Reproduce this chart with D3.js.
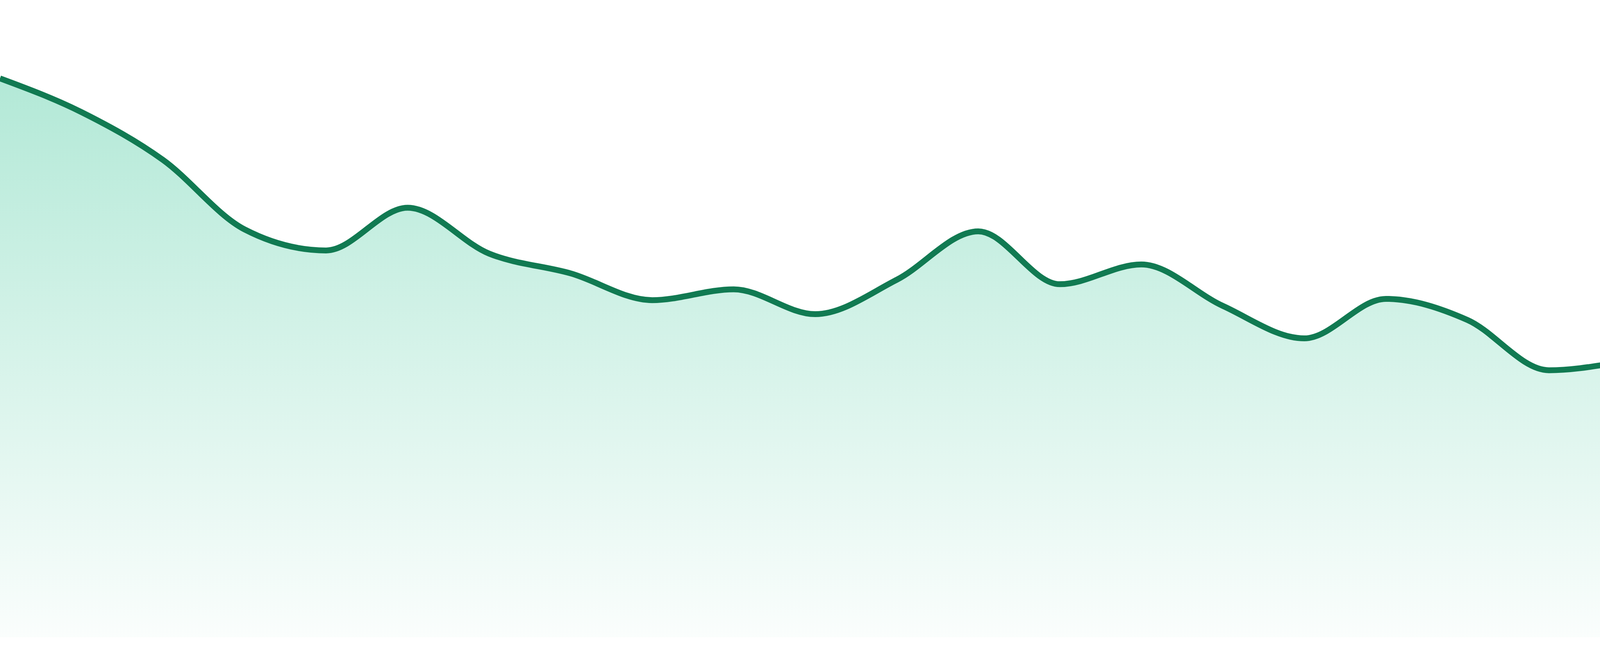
<!DOCTYPE html>
<html>
<head>
<meta charset="utf-8">
<script src="https://cdn.jsdelivr.net/npm/d3@7"></script>
<style>
  html, body { margin: 0; padding: 0; background: #fff; }
  svg { display: block; }
</style>
</head>
<body>
<svg id="chart" width="4800" height="1680"></svg>
<script>
// sparkline area, 24 samples
var days = d3.range(24);
var values = [87.7, 82.4, 74.9, 64.0, 60.7, 67.4, 60.2, 57.1, 52.9, 54.6, 50.7, 56.1,
              63.7, 55.4, 58.5, 52.0, 46.9, 53.1, 49.8, 41.9, 43.4, 45.6, 45.0, 43.0];

var svg = d3.select("#chart"),
    width = +svg.attr("width"),
    height = +svg.attr("height"),
    bottom = 1632;

var x = d3.scaleLinear().domain([0, days.length - 1]).range([0, width]);
var y = d3.scaleLinear().domain([0, 100]).range([bottom, 0]);

var data = days.map(function(d, i) { return { day: d, value: values[i] }; });

var grad = svg.append("defs").append("linearGradient")
    .attr("id", "fillGrad")
    .attr("x1", 0).attr("y1", 0).attr("x2", 0).attr("y2", 1);
grad.append("stop").attr("offset", "0%").attr("stop-color", "#10b981").attr("stop-opacity", 0.32);
grad.append("stop").attr("offset", "100%").attr("stop-color", "#10b981").attr("stop-opacity", 0.02);

var area = d3.area()
    .curve(d3.curveMonotoneX)
    .x(function(d) { return x(d.day); })
    .y0(bottom)
    .y1(function(d) { return y(d.value); });

var line = d3.line()
    .curve(d3.curveMonotoneX)
    .x(function(d) { return x(d.day); })
    .y(function(d) { return y(d.value); });

svg.append("path")
    .datum(data)
    .attr("d", area)
    .attr("fill", "url(#fillGrad)");

svg.append("path")
    .datum(data)
    .attr("d", line)
    .attr("fill", "none")
    .attr("stroke", "#117a52")
    .attr("stroke-width", 15);
</script>
</body>
</html>
